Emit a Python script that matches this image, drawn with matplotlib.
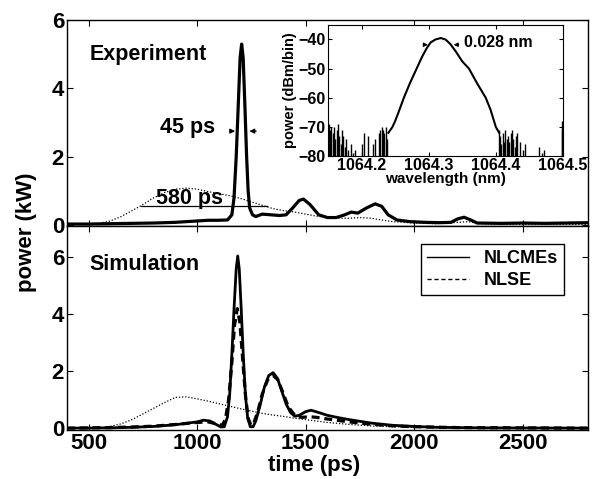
import numpy as np
import matplotlib
matplotlib.use("Agg")
import matplotlib.pyplot as plt
from matplotlib.lines import Line2D

plt.rcParams['font.family'] = ['Liberation Sans', 'DejaVu Sans']
plt.rcParams['font.weight'] = 'bold'

# ---------------- data ----------------
# Experiment (top panel)
exp_t = [400, 500, 600, 700, 800, 900, 1000, 1050, 1100, 1140, 1160, 1170, 1180, 1190, 1198, 1205,
         1212, 1220, 1228, 1235, 1242, 1255, 1270, 1300, 1340, 1380, 1410, 1440, 1470, 1490, 1520,
         1560, 1600, 1640, 1680, 1710, 1740, 1780, 1820, 1850, 1880, 1920, 1980, 2050, 2120, 2170,
         2200, 2230, 2260, 2290, 2400, 2500, 2600, 2700, 2800]
exp_p = [0.03, 0.03, 0.04, 0.05, 0.06, 0.08, 0.12, 0.14, 0.14, 0.15, 0.3, 0.8, 2.0, 3.6, 4.9, 5.3,
         4.9, 3.5, 2.0, 1.0, 0.5, 0.3, 0.25, 0.32, 0.3, 0.28, 0.3, 0.5, 0.72, 0.76, 0.6,
         0.3, 0.22, 0.22, 0.3, 0.38, 0.35, 0.5, 0.62, 0.55, 0.3, 0.15, 0.1, 0.08, 0.07, 0.08,
         0.18, 0.23, 0.15, 0.06, 0.05, 0.06, 0.05, 0.06, 0.07]
exp_in_t = [450, 500, 550, 600, 650, 700, 750, 800, 850, 900, 950, 1000, 1050, 1100, 1150, 1200,
            1250, 1300, 1350, 1400, 1450, 1500, 1550, 1600, 1650, 1700, 1750, 1800, 1850, 1900,
            2000, 2100, 2200, 2250, 2300, 2400, 2600, 2800]
exp_in_p = [0.01, 0.02, 0.05, 0.12, 0.25, 0.42, 0.6, 0.8, 0.95, 1.05, 1.08, 1.05, 0.98, 0.92, 0.86, 0.78,
            0.68, 0.58, 0.48, 0.42, 0.38, 0.32, 0.26, 0.22, 0.2, 0.2, 0.22, 0.2, 0.15, 0.1,
            0.06, 0.04, 0.08, 0.1, 0.04, 0.02, 0.02, 0.02]

# Simulation (bottom panel)
sim_t = [400, 600, 700, 800, 900, 950, 1000, 1030, 1060, 1090, 1110, 1125, 1140, 1150, 1160, 1170,
         1180, 1187, 1194, 1203, 1213, 1223, 1233, 1245, 1258, 1270, 1290, 1310, 1330, 1350, 1370,
         1390, 1410, 1430, 1450, 1470, 1500, 1525, 1560, 1600, 1650, 1700, 1800, 1900, 2000, 2100,
         2300, 2800]
nlcme_p = [0.0, 0.01, 0.03, 0.06, 0.12, 0.17, 0.22, 0.28, 0.25, 0.12, 0.04, 0.05, 0.4, 1.2, 2.6, 4.2,
           5.6, 6.05, 5.6, 4.2, 2.5, 1.1, 0.35, 0.05, 0.05, 0.25, 0.8, 1.45, 1.85, 1.95, 1.75,
           1.3, 0.85, 0.55, 0.42, 0.45, 0.58, 0.63, 0.55, 0.45, 0.37, 0.3, 0.18, 0.1, 0.06, 0.03,
           0.01, 0.0]
nlse_t = [400, 600, 700, 800, 900, 1000, 1050, 1090, 1115, 1130, 1145, 1160, 1172, 1185, 1197, 1210,
          1222, 1235, 1248, 1262, 1280, 1300, 1325, 1350, 1372, 1395, 1420, 1450, 1480, 1520, 1550,
          1600, 1700, 1800, 1900, 2000, 2200, 2800]
nlse_p = [0.0, 0.02, 0.04, 0.07, 0.13, 0.2, 0.22, 0.15, 0.1, 0.3, 1.0, 2.3, 3.6, 4.2, 3.7, 2.4,
          1.2, 0.35, 0.1, 0.2, 0.6, 1.2, 1.7, 1.85, 1.7, 1.25, 0.75, 0.45, 0.38, 0.4, 0.38,
          0.32, 0.22, 0.14, 0.08, 0.05, 0.02, 0.0]
sim_in_t = [500, 580, 650, 700, 750, 800, 850, 900, 950, 1000, 1050, 1100, 1150, 1200, 1250, 1300,
            1350, 1400, 1450, 1500, 1600, 1700, 1800, 1900, 2000, 2200, 2800]
sim_in_p = [0.0, 0.03, 0.15, 0.3, 0.5, 0.7, 0.9, 1.08, 1.1, 1.03, 0.95, 0.86, 0.77, 0.68, 0.6, 0.52,
            0.46, 0.41, 0.35, 0.3, 0.2, 0.13, 0.08, 0.05, 0.03, 0.01, 0.0]

# Inset spectrum
spec_wl = [1064.240, 1064.246, 1064.250, 1064.255, 1064.263, 1064.272, 1064.282, 1064.290, 1064.297,
           1064.303, 1064.310, 1064.318, 1064.325, 1064.332, 1064.340, 1064.350, 1064.360, 1064.372,
           1064.385, 1064.392, 1064.400, 1064.405]
spec_db = [-72, -70, -68, -65, -60, -55, -50, -46, -43, -41, -40, -39.5, -40, -41.5, -44, -47.5, -50,
           -55, -60, -64, -70, -72]
noise_wl = [1064.151, 1064.153, 1064.155, 1064.157, 1064.159, 1064.161, 1064.163, 1064.165, 1064.167,
            1064.169, 1064.171, 1064.173, 1064.175, 1064.177, 1064.180, 1064.185, 1064.188, 1064.190,
            1064.200, 1064.203, 1064.210, 1064.217, 1064.220, 1064.226, 1064.228, 1064.230, 1064.232,
            1064.234, 1064.236, 1064.238, 1064.404, 1064.406, 1064.408, 1064.410, 1064.412, 1064.414,
            1064.416, 1064.418, 1064.420, 1064.422, 1064.424, 1064.426, 1064.428, 1064.430, 1064.432,
            1064.436, 1064.440, 1064.443, 1064.465, 1064.468, 1064.472, 1064.498, 1064.499]
noise_db = [-69, -71, -70, -72, -70, -74, -71, -69, -73, -76, -71, -73, -77, -74, -78, -76, -79, -78,
            -76, -72, -73, -76, -74, -72, -71, -70, -71, -72, -70, -74, -71, -73, -76, -72, -75, -71,
            -74, -73, -75, -72, -71, -74, -77, -73, -72, -75, -78, -76, -77, -79, -78, -71, -68]

time_ticks = [500, 1000, 1500, 2000, 2500]
power_ticks = [0, 2, 4, 6]
wl_ticks = [1064.2, 1064.3, 1064.4, 1064.5]
db_ticks = [-80, -70, -60, -50, -40]

# ---------------- figure ----------------
fig = plt.figure(figsize=(5.92, 4.79), dpi=100)
L, R = 0.113, 0.993
ax1 = fig.add_axes([L, 0.528, R - L, 0.958 - 0.528])
ax2 = fig.add_axes([L, 0.102, R - L, 0.528 - 0.102])

TFS = 16
for ax in (ax1, ax2):
    ax.set_xlim(400, 2800)
    ax.set_xticks(time_ticks)
    ax.set_yticks(power_ticks)
    ax.tick_params(direction='in', top=True, right=True, length=4, width=0.8,
                   labelsize=TFS, pad=2)
    for s in ax.spines.values():
        s.set_linewidth(1.0)
    for lab in ax.get_yticklabels() + ax.get_xticklabels():
        lab.set_fontweight('bold')

ax1.set_ylim(-0.03, 6.0)
ax2.set_ylim(-0.07, 7.1)
ax1.tick_params(labelbottom=False)

# top
ax1.plot(exp_in_t, exp_in_p, color='black', lw=0.9, ls=(0, (1, 1.5)))
ax1.plot(exp_t, exp_p, color='black', lw=2.3)
ax1.text(505, 5.0, 'Experiment', fontsize=15.5, fontweight='bold', va='center', ha='left')
ax1.plot([740, 1320], [0.55, 0.55], color='black', lw=0.9)
ax1.text(963, 0.62, '580 ps', fontsize=15.5, fontweight='bold', ha='center', va='baseline')
ax1.text(1082, 2.85, '45 ps', fontsize=15.5, fontweight='bold', ha='right', va='center')
ax1.annotate('', xy=(1188, 2.75), xytext=(1140, 2.75),
             arrowprops=dict(arrowstyle='-|>', color='black', lw=0.9, mutation_scale=7))
ax1.annotate('', xy=(1228, 2.75), xytext=(1285, 2.75),
             arrowprops=dict(arrowstyle='-|>', color='black', lw=0.9, mutation_scale=7))

# bottom
ax2.plot(sim_in_t, sim_in_p, color='black', lw=0.9, ls=(0, (1, 1.5)))
ax2.plot(nlse_t, nlse_p, color='black', lw=2.3, ls=(0, (2.5, 1.5)))
ax2.plot(sim_t, nlcme_p, color='black', lw=2.0)
ax2.text(505, 5.75, 'Simulation', fontsize=15.5, fontweight='bold', va='center', ha='left')
handles = [Line2D([], [], color='black', lw=1.0),
           Line2D([], [], color='black', lw=1.0, ls=(0, (3, 2)))]
leg = ax2.legend(handles, ['NLCMEs', 'NLSE'], loc='upper right', bbox_to_anchor=(0.954, 0.912),
                 borderaxespad=0, fancybox=False, edgecolor='black', framealpha=1,
                 handlelength=2.3, prop={'weight': 'bold', 'size': 13}, borderpad=0.35,
                 labelspacing=0.25, handletextpad=0.8)
leg.get_frame().set_linewidth(1.0)

fig.text(0.045, 0.515, 'power (kW)', rotation=90, fontsize=TFS, fontweight='bold',
         ha='center', va='center')
fig.text(0.53, 0.028, 'time (ps)', fontsize=TFS, fontweight='bold', ha='center', va='center')

# inset
axi = fig.add_axes([0.554, 0.674, 0.397, 0.274])
axi.set_xlim(1064.15, 1064.5)
axi.set_ylim(-80, -35)
axi.vlines(noise_wl, -80, noise_db, color='black', lw=1.0)
axi.plot(spec_wl, spec_db, color='black', lw=1.5)
axi.set_xticks(wl_ticks)
axi.set_yticks(db_ticks)
axi.set_xticklabels([f'{w:.1f}' for w in wl_ticks])
axi.tick_params(direction='in', top=True, right=True, length=3, labelsize=11.5, pad=1.5)
for lab in axi.get_yticklabels() + axi.get_xticklabels():
    lab.set_fontweight('bold')
axi.set_xlabel('wavelength (nm)', fontsize=11, fontweight='bold', labelpad=-1)
axi.set_ylabel('power (dBm/bin)', fontsize=10.5, fontweight='bold', labelpad=1)
axi.annotate('', xy=(1064.303, -41.8), xytext=(1064.288, -41.8),
             arrowprops=dict(arrowstyle='-|>', color='black', lw=0.8, mutation_scale=6))
axi.annotate('', xy=(1064.333, -41.8), xytext=(1064.349, -41.8),
             arrowprops=dict(arrowstyle='-|>', color='black', lw=0.8, mutation_scale=6))
axi.text(1064.352, -41.0, '0.028 nm', fontsize=11.5, fontweight='bold', ha='left', va='center')

fig.savefig('out.png', dpi=100)
